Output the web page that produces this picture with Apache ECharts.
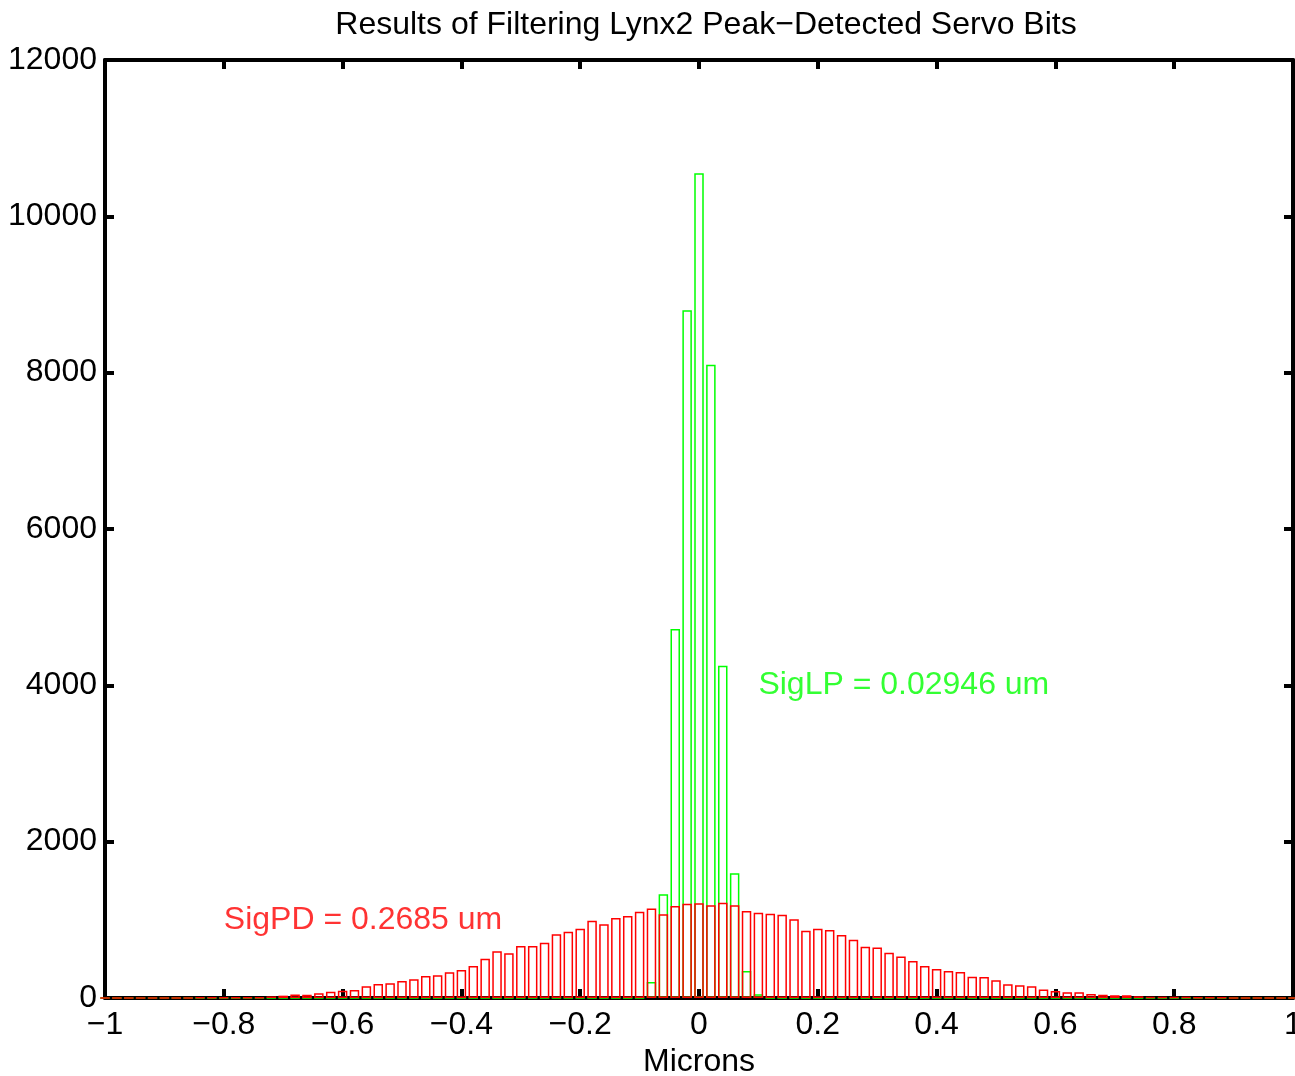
<!DOCTYPE html>
<html>
<head>
<meta charset="utf-8">
<script src="https://cdn.jsdelivr.net/npm/echarts@6/dist/echarts.min.js"></script>
<style>
  html, body { margin: 0; padding: 0; background: #fff; }
  #chart { width: 1295px; height: 1076px; }
</style>
</head>
<body>
<div id="chart"></div>
<script>
// bin centres, -1 .. 1 step 0.02
const binCenters = [];
for (let i = 0; i <= 100; i++) binCenters.push(Math.round((-1 + i * 0.02) * 100) / 100);

// SigPD histogram counts (red)
const countsPD = [
  0, 0, 0, 0, 3, 0, 0, 3, 8, 8,
  8, 8, 8, 8, 20, 30, 46, 43, 60, 80,
  93, 102, 150, 179, 190, 217, 239, 281, 290, 328,
  358, 409, 503, 597, 571, 665, 665, 708, 815, 848,
  887, 989, 942, 1023, 1049, 1104, 1145, 1070, 1177, 1206,
  1211,
  1186, 1219, 1186, 1113, 1091, 1079, 1066, 1006, 861, 887,
  870, 805, 746, 655, 646, 578, 530, 474, 410, 371,
  345, 333, 272, 268, 226, 175, 162, 149, 110, 89,
  72, 72, 51, 40, 35, 35, 22, 13, 10, 10,
  10, 5, 5, 5, 0, 0, 3, 0, 0, 0
];

// SigLP histogram counts (green), non-zero only near the centre
const lpCenters = [-0.08, -0.06, -0.04, -0.02, 0, 0.02, 0.04, 0.06, 0.08, 0.10];
const lpCounts = [205, 1326, 4720, 8800, 10550, 8100, 4250, 1595, 345, 47];

const countsLP = binCenters.map(x => {
  const k = lpCenters.findIndex(c => Math.abs(c - x) < 1e-6);
  return k >= 0 ? lpCounts[k] : 0;
});

const titleText = 'Results of Filtering Lynx2 Peak\u2212Detected Servo Bits';
const xName = 'Microns';
const notes = [
  { x: 0.1, y: 4000, text: 'SigLP = 0.02946 um', color: '#00ff00' },
  { x: -0.8, y: 1000, text: 'SigPD = 0.2685 um', color: '#ff0000' }
];

const FONT = '"Liberation Sans", Arial, Helvetica, sans-serif';
const FS = 32;
const minus = v => String(v).replace('-', '\u2212');

const chart = echarts.init(document.getElementById('chart'));

const axisLine = { show: true, onZero: false, lineStyle: { color: '#000', width: 4 } };
const tick = { show: true, inside: true, length: 9, lineStyle: { color: '#000', width: 4 } };

const option = {
  backgroundColor: '#fff',
  animation: false,
  textStyle: { fontFamily: FONT },
  title: {
    text: titleText,
    left: 701,
    textAlign: 'center',
    top: 4,
    textStyle: { fontFamily: FONT, fontSize: FS, fontWeight: 'normal', color: '#000' }
  },
  grid: { left: 105, right: 2, top: 60, bottom: 78, containLabel: false, outerBoundsMode: 'none' },
  xAxis: [
    {
      type: 'value', min: -1, max: 1, interval: 0.2,
      name: xName, nameLocation: 'middle', nameGap: 47,
      nameTextStyle: { fontFamily: FONT, fontSize: FS, color: '#000' },
      axisLine: axisLine, axisTick: tick,
      axisLabel: { color: '#000', fontSize: FS, fontFamily: FONT, margin: 11, formatter: minus },
      splitLine: { show: false }
    },
    {
      type: 'value', min: -1, max: 1, interval: 0.2, position: 'top',
      axisLine: axisLine, axisTick: tick, axisLabel: { show: false }, splitLine: { show: false }
    }
  ],
  yAxis: [
    {
      type: 'value', min: 0, max: 12000, interval: 2000,
      axisLine: axisLine, axisTick: tick,
      axisLabel: { color: '#000', fontSize: FS, fontFamily: FONT, margin: 8, formatter: v => String(v) },
      splitLine: { show: false }
    },
    {
      type: 'value', min: 0, max: 12000, interval: 2000, position: 'right',
      axisLine: axisLine, axisTick: tick, axisLabel: { show: false }, splitLine: { show: false }
    }
  ],
  series: [
    {
      type: 'bar',
      data: binCenters.map((x, i) => [x, countsPD[i]]),
      barWidth: 9.5,
      barGap: '-100%',
      itemStyle: { color: 'rgba(0,0,0,0)', borderColor: '#ff0000', borderWidth: 1.5 },
      z: 3
    },
    {
      type: 'bar',
      data: binCenters.map((x, i) => [x, countsLP[i]]),
      barWidth: 9.5,
      barGap: '-100%',
      itemStyle: { color: 'rgba(0,0,0,0)', borderColor: '#00ff00', borderWidth: 1.5 },
      z: 2
    },
    {
      type: 'scatter',
      symbolSize: 0,
      data: notes.map(n => ({
        value: [n.x, n.y],
        label: { color: n.color, formatter: n.text }
      })),
      label: {
        show: true, position: 'right', distance: 0,
        fontSize: FS, fontFamily: FONT
      },
      silent: true,
      z: 5
    }
  ]
};

chart.setOption(option);
</script>
</body>
</html>
